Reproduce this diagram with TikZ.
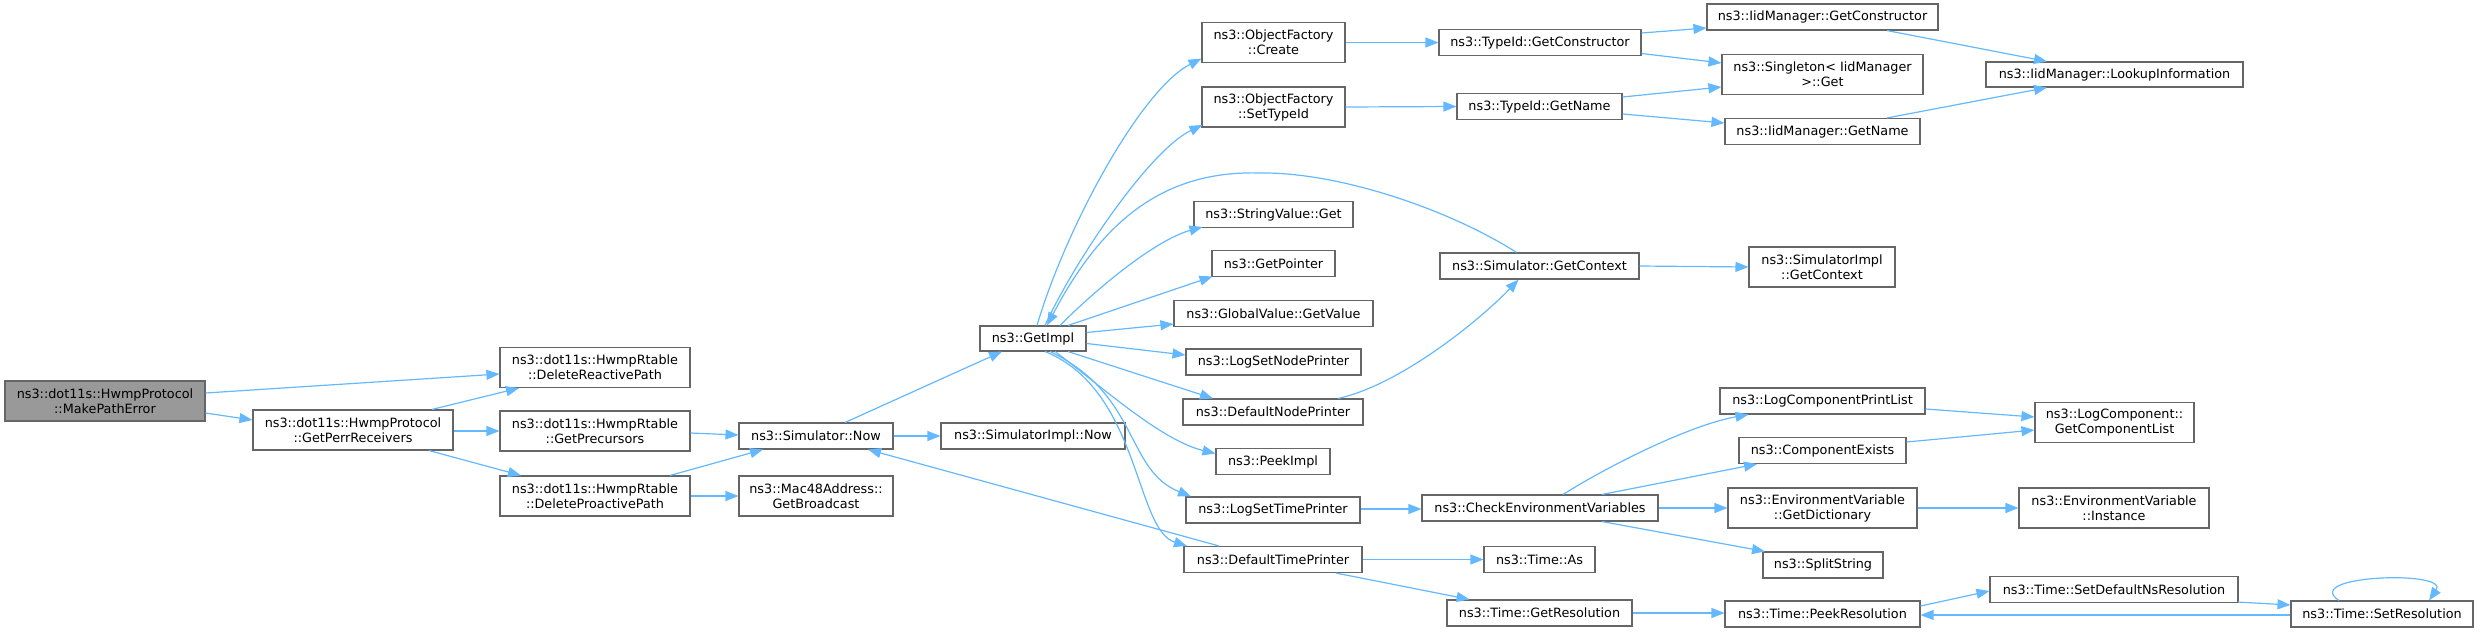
\documentclass[tikz,border=0pt]{standalone}
\usepackage{fontspec}
\setmainfont{DejaVu Sans}
\usetikzlibrary{arrows.meta,calc}
\definecolor{edgeblue}{HTML}{63B8FF}
\definecolor{boxgray}{HTML}{666666}
\definecolor{rootfill}{HTML}{999999}
\tikzset{
  fn/.style={draw=boxgray, fill=white, line width=1.1pt, inner sep=0pt, align=center,
    font=\fontsize{12.8}{15}\selectfont},
  rootbox/.style={fn, fill=rootfill},
  ed/.style={draw=edgeblue, line width=1.2pt, -{Triangle[length=13pt,width=10pt]}},
}
\begin{document}
\begin{tikzpicture}[x=1pt,y=-1pt]
\useasboundingbox (0,0) rectangle (2480,632);
% column 0-3
\node[rootbox, minimum width=200pt, minimum height=40pt] (mpe) at (105,401) {ns3::dot11s::HwmpProtocol\\::MakePathError};
\node[fn, minimum width=200pt, minimum height=40pt] (gpr) at (353,430) {ns3::dot11s::HwmpProtocol\\::GetPerrReceivers};
\node[fn, minimum width=190pt, minimum height=40pt] (drp) at (595,367.5) {ns3::dot11s::HwmpRtable\\::DeleteReactivePath};
\node[fn, minimum width=190pt, minimum height=40pt] (gpc) at (595,431) {ns3::dot11s::HwmpRtable\\::GetPrecursors};
\node[fn, minimum width=190pt, minimum height=40pt] (dpp) at (595,496) {ns3::dot11s::HwmpRtable\\::DeleteProactivePath};
\node[fn, minimum width=154pt, minimum height=26pt] (snow) at (816,436) {ns3::Simulator::Now};
\node[fn, minimum width=154pt, minimum height=40pt] (mac) at (816,496) {ns3::Mac48Address::\\GetBroadcast};
% column 4
\node[fn, minimum width=184pt, minimum height=26pt] (sinow) at (1033,436) {ns3::SimulatorImpl::Now};
\node[fn, minimum width=106pt, minimum height=25pt] (gimpl) at (1033,338.5) {ns3::GetImpl};
% column 5
\node[fn, minimum width=143pt, minimum height=40pt] (ofc) at (1273.5,42.5) {ns3::ObjectFactory\\::Create};
\node[fn, minimum width=143pt, minimum height=40pt] (ofs) at (1273.5,107) {ns3::ObjectFactory\\::SetTypeId};
\node[fn, minimum width=159pt, minimum height=26pt] (svg) at (1273.5,214.5) {ns3::StringValue::Get};
\node[fn, minimum width=123pt, minimum height=26pt] (gptr) at (1273.5,263.5) {ns3::GetPointer};
\node[fn, minimum width=199pt, minimum height=26pt] (gvv) at (1273.5,313.5) {ns3::GlobalValue::GetValue};
\node[fn, minimum width=175pt, minimum height=26pt] (lsnp) at (1273.5,362) {ns3::LogSetNodePrinter};
\node[fn, minimum width=180pt, minimum height=26pt] (dnp) at (1273,412) {ns3::DefaultNodePrinter};
\node[fn, minimum width=114pt, minimum height=26pt] (peek) at (1273,461.5) {ns3::PeekImpl};
\node[fn, minimum width=174pt, minimum height=26pt] (lstp) at (1273,510) {ns3::LogSetTimePrinter};
\node[fn, minimum width=178pt, minimum height=26pt] (dtp) at (1273,559.5) {ns3::DefaultTimePrinter};
% column 6
\node[fn, minimum width=202pt, minimum height=26pt] (tgc) at (1540,42.5) {ns3::TypeId::GetConstructor};
\node[fn, minimum width=165pt, minimum height=26pt] (tgn) at (1539.5,106.5) {ns3::TypeId::GetName};
\node[fn, minimum width=199pt, minimum height=26pt] (sgc) at (1539.5,266) {ns3::Simulator::GetContext};
\node[fn, minimum width=236pt, minimum height=26pt] (cev) at (1540,508) {ns3::CheckEnvironmentVariables};
\node[fn, minimum width=111pt, minimum height=26pt] (tas) at (1539.5,559.5) {ns3::Time::As};
\node[fn, minimum width=185pt, minimum height=26pt] (tgr) at (1539.5,613) {ns3::Time::GetResolution};
% column 7
\node[fn, minimum width=231pt, minimum height=26pt] (igc) at (1822.5,17) {ns3::IidManager::GetConstructor};
\node[fn, minimum width=201pt, minimum height=40pt] (sng) at (1822.5,74.5) {ns3::Singleton< IidManager\\ >::Get};
\node[fn, minimum width=195pt, minimum height=26pt] (ign) at (1822.5,131.5) {ns3::IidManager::GetName};
\node[fn, minimum width=146pt, minimum height=40pt] (sigc) at (1822,267) {ns3::SimulatorImpl\\::GetContext};
\node[fn, minimum width=205pt, minimum height=26pt] (lcpl) at (1822.5,401) {ns3::LogComponentPrintList};
\node[fn, minimum width=167pt, minimum height=26pt] (cex) at (1822.5,450.5) {ns3::ComponentExists};
\node[fn, minimum width=189pt, minimum height=40pt] (evgd) at (1822.5,508) {ns3::EnvironmentVariable\\::GetDictionary};
\node[fn, minimum width=120pt, minimum height=26pt] (split) at (1823,565) {ns3::SplitString};
\node[fn, minimum width=195pt, minimum height=26pt] (tpr) at (1822.5,614) {ns3::Time::PeekResolution};
% column 8
\node[fn, minimum width=257pt, minimum height=25pt] (lui) at (2114.5,74.5) {ns3::IidManager::LookupInformation};
\node[fn, minimum width=159pt, minimum height=40pt] (lcgcl) at (2114.5,422.5) {ns3::LogComponent::\\GetComponentList};
\node[fn, minimum width=190pt, minimum height=40pt] (evi) at (2114,508) {ns3::EnvironmentVariable\\::Instance};
\node[fn, minimum width=248pt, minimum height=26pt] (tsdn) at (2114,589.5) {ns3::Time::SetDefaultNsResolution};
% column 9
\node[fn, minimum width=182pt, minimum height=26pt] (tsr) at (2382,614) {ns3::Time::SetResolution};

% edges
\draw[ed] ($(mpe.east)+(0,-8)$) -- ($(drp.west)+(0,6.5)$);
\draw[ed] ($(mpe.east)+(0,12)$) -- ($(gpr.west)+(0,-10)$);
\draw[ed] ($(gpr.north)+(79,0)$) -- ($(drp.south)+(-76,0)$);
\draw[ed] ($(gpr.east)+(0,1)$) -- (gpc.west);
\draw[ed] ($(gpr.south)+(76,0)$) -- ($(dpp.north)+(-74,0)$);
\draw[ed] ($(gpc.east)+(0,2)$) -- ($(snow.west)+(0,-1)$);
\draw[ed] ($(dpp.north)+(75,0)$) -- ($(snow.south)+(-53,0)$);
\draw[ed] (dpp.east) -- (mac.west);
\draw[ed] ($(snow.north)+(29,0)$) -- ($(gimpl.south)+(-31,0)$);
\draw[ed] (snow.east) -- (sinow.west);
\draw[ed] ($(dtp.north)+(-54,0)$) -- ($(snow.south)+(52,0)$);
% GetImpl fan
\draw[ed] ($(gimpl.north)+(4,0)$) .. controls (1065,230) and (1140,90) .. ($(ofc.west)+(0,16)$);
\draw[ed] ($(gimpl.north)+(12,0)$) .. controls (1075,260) and (1150,150) .. ($(ofs.west)+(1,18)$);
\draw[ed] ($(sgc.north)+(-23,0)$) .. controls (1450,210) and (1340,172) .. (1260,173)
   .. controls (1160,170) and (1100,225) .. ($(gimpl.north)+(14,0)$);
\draw[ed] ($(gimpl.north)+(27,0)$) .. controls (1095,290) and (1155,240) .. ($(svg.west)+(9,12.5)$);
\draw[ed] ($(gimpl.north)+(35,0)$) -- ($(gptr.west)+(1,13)$);
\draw[ed] ($(gimpl.east)+(0,-6)$) -- ($(gvv.west)+(0,10.5)$);
\draw[ed] ($(gimpl.east)+(0,5)$) -- ($(lsnp.west)+(0,-7)$);
\draw[ed] ($(gimpl.south)+(35,0)$) -- ($(dnp.north)+(-60,0)$);
\draw[ed] ($(gimpl.south)+(22,0)$) .. controls (1100,385) and (1160,440) .. ($(peek.west)+(0,-8)$);
\draw[ed] ($(gimpl.south)+(17,0)$) .. controls (1140,395) and (1125,470) .. ($(lstp.north)+(-82,0)$);
\draw[ed] ($(gimpl.south)+(12,0)$) .. controls (1140,390) and (1135,530) .. ($(dtp.north)+(-86,0)$);
\draw[ed] ($(dnp.north)+(65,0)$) .. controls (1400,385) and (1480,320) .. ($(sgc.south)+(-21,0)$);
% column 5 -> 6
\draw[ed] (ofc.east) -- (tgc.west);
\draw[ed] (ofs.east) -- (tgn.west);
\draw[ed] (sgc.east) -- (sigc.west);
\draw[ed] ($(lstp.east)+(0,-1)$) -- ($(cev.west)+(0,1)$);
\draw[ed] (dtp.east) -- (tas.west);
\draw[ed] ($(dtp.south)+(63,0)$) -- ($(tgr.north)+(-70,0)$);
% column 6 -> 7
\draw[ed] ($(tgc.east)+(0,-9.5)$) -- ($(igc.west)+(0,11)$);
\draw[ed] ($(tgc.east)+(0,11)$) -- ($(sng.west)+(0,-11.5)$);
\draw[ed] ($(tgn.east)+(0,-9.5)$) -- ($(sng.west)+(0,12.5)$);
\draw[ed] ($(tgn.east)+(0,7.5)$) -- ($(ign.west)+(0,-8.5)$);
\draw[ed] ($(cev.north)+(23,0)$) .. controls (1610,465) and (1690,425) .. ($(lcpl.south)+(-74,0)$);
\draw[ed] ($(cev.north)+(62,0)$) -- ($(cex.south)+(-65.5,0)$);
\draw[ed] (cev.east) -- (evgd.west);
\draw[ed] ($(cev.south)+(62,0)$) -- ($(split.north)+(-58,0)$);
\draw[ed] (tgr.east) -- ($(tpr.west)+(0,-1)$);
% column 7 -> 8
\draw[ed] ($(igc.south)+(64.5,0)$) -- ($(lui.north)+(-67.5,0)$);
\draw[ed] ($(ign.north)+(64.5,0)$) -- ($(lui.south)+(-67.5,0)$);
\draw[ed] ($(lcpl.east)+(0,8)$) -- ($(lcgcl.west)+(0,-5.5)$);
\draw[ed] ($(cex.east)+(0,-8.5)$) -- ($(lcgcl.west)+(0,7.5)$);
\draw[ed] (evgd.east) -- (evi.west);
\draw[ed] ($(tpr.east)+(0,-8)$) -- ($(tsdn.west)+(0,1.5)$);
% column 8/9
\draw[ed] ($(tsdn.south)+(124,-1)$) -- ($(tsr.west)+(0,-9)$);
\draw[ed] ($(tsr.west)+(0,1)$) -- ($(tpr.east)+(0,1)$);
\draw[ed] ($(tsr.north)+(-43,0)$) .. controls (2300,575) and (2450,570) .. ($(tsr.north)+(47,0)$);
\end{tikzpicture}
\end{document}
